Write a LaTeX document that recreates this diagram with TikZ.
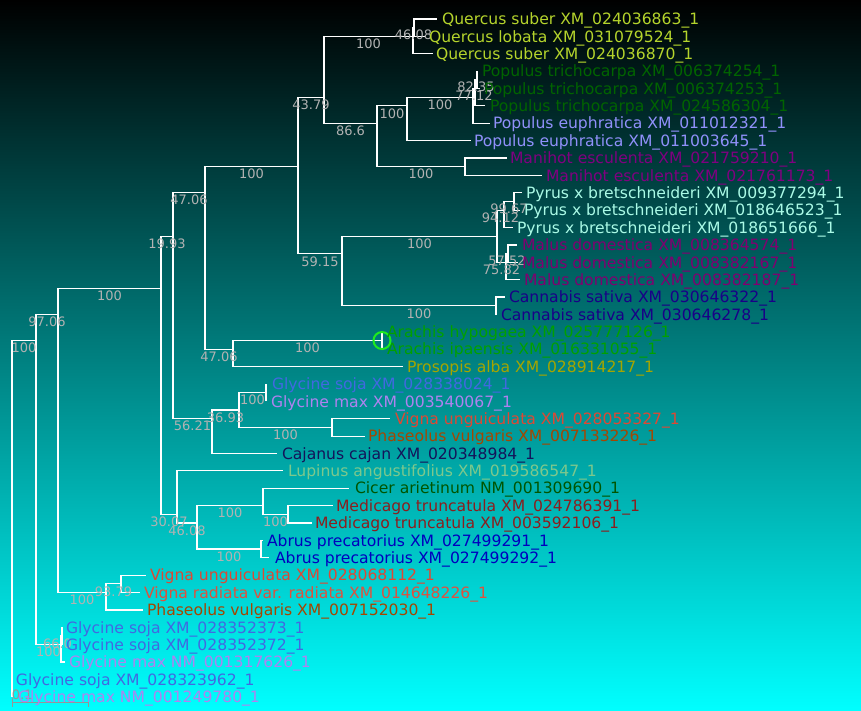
\documentclass[tikz,border=0pt]{standalone}
\usepackage{fontspec}
\setmainfont{DejaVu Sans}
\definecolor{bootgray}{RGB}{178,178,178}
\definecolor{scalegray}{RGB}{150,150,150}
\definecolor{cQ}{RGB}{181,212,44}
\definecolor{cPt}{RGB}{0,100,0}
\definecolor{cPe}{RGB}{144,144,250}
\definecolor{cMan}{RGB}{128,0,128}
\definecolor{cPy}{RGB}{170,250,230}
\definecolor{cMal}{RGB}{128,0,112}
\definecolor{cCan}{RGB}{25,0,135}
\definecolor{cAra}{RGB}{0,160,0}
\definecolor{cPro}{RGB}{165,165,0}
\definecolor{cGs}{RGB}{65,105,225}
\definecolor{cGm}{RGB}{175,130,240}
\definecolor{cVu}{RGB}{222,72,52}
\definecolor{cVr}{RGB}{222,82,62}
\definecolor{cPh}{RGB}{165,70,0}
\definecolor{cCaj}{RGB}{20,20,90}
\definecolor{cLup}{RGB}{125,200,140}
\definecolor{cCic}{RGB}{0,85,0}
\definecolor{cMed}{RGB}{140,30,30}
\definecolor{cAb}{RGB}{0,0,190}
\definecolor{cCirc}{RGB}{30,235,30}
\tikzset{
  leaf/.style={anchor=base west, inner sep=0pt, outer sep=0pt, yshift=-5.7pt, font=\fontsize{15.6}{18}\selectfont},
  boot/.style={anchor=base, inner sep=0pt, outer sep=0pt, yshift=-4.7pt, text=bootgray, font=\fontsize{13}{15}\selectfont},
  branch/.style={draw=white, line width=1.2pt},
}
\begin{document}
\begin{tikzpicture}[x=1pt,y=-1pt]
\useasboundingbox (0,0) rectangle (861,711);
\shade[top color=black, bottom color=cyan] (0,0) rectangle (861,711);

% internal nodes
\coordinate (R) at (12,358.0);
\coordinate (N36) at (36,340.53);
\coordinate (N58) at (58,314.46);
\coordinate (N161) at (161,288.39);
\coordinate (N173) at (173,236.25);
\coordinate (N205) at (205,192.8);
\coordinate (N298) at (298,166.73);
\coordinate (N324) at (324,97.21);
\coordinate (NQ) at (413,36.38);
\coordinate (NQ1) at (414,27.69);
\coordinate (N377) at (377,123.28);
\coordinate (N407) at (407,105.90);
\coordinate (P1) at (473,97.21);
\coordinate (P2) at (475,88.52);
\coordinate (P3) at (477,79.83);
\coordinate (NM) at (465,166.73);
\coordinate (N342) at (342,253.63);
\coordinate (NR) at (497,236.25);
\coordinate (NPy) at (504,210.18);
\coordinate (NPy1) at (514,201.49);
\coordinate (NMa) at (506,262.32);
\coordinate (NMa1) at (508,253.63);
\coordinate (NC) at (496,305.77);
\coordinate (NAP) at (233,349.22);
\coordinate (NA) at (382,340.53);
\coordinate (N212) at (212,418.74);
\coordinate (N239) at (239,410.05);
\coordinate (NG) at (266,392.67);
\coordinate (NVP) at (332,427.43);
\coordinate (N177) at (177,514.33);
\coordinate (N197) at (197,523.02);
\coordinate (NCM) at (263,505.64);
\coordinate (NMe) at (288,514.33);
\coordinate (NAb) at (261,549.09);
\coordinate (N106) at (106,592.54);
\coordinate (NV) at (121,583.85);
\coordinate (NGl) at (61,644.68);
\coordinate (NGl1) at (62,635.99);

% leaf tips
\coordinate (t1) at (437,19.00);
\coordinate (t2) at (425,36.38);
\coordinate (t3) at (433,53.76);
\coordinate (t4) at (477,71.14);
\coordinate (t5) at (480,88.52);
\coordinate (t6) at (485,105.90);
\coordinate (t7) at (490,123.28);
\coordinate (t8) at (471,140.66);
\coordinate (t9) at (507,158.04);
\coordinate (t10) at (542,175.42);
\coordinate (t11) at (522,192.80);
\coordinate (t12) at (520,210.18);
\coordinate (t13) at (513,227.56);
\coordinate (t14) at (517,244.94);
\coordinate (t15) at (518,262.32);
\coordinate (t16) at (520,279.70);
\coordinate (t17) at (505,297.08);
\coordinate (t18) at (497,314.46);
\coordinate (t19) at (382,331.84);
\coordinate (t20) at (382,349.22);
\coordinate (t21) at (403,366.60);
\coordinate (t22) at (266,383.98);
\coordinate (t23) at (266,401.36);
\coordinate (t24) at (390,418.74);
\coordinate (t25) at (365,436.12);
\coordinate (t26) at (277,453.50);
\coordinate (t27) at (283,470.88);
\coordinate (t28) at (349,488.26);
\coordinate (t29) at (333,505.64);
\coordinate (t30) at (312,523.02);
\coordinate (t31) at (263,540.40);
\coordinate (t32) at (269,557.78);
\coordinate (t33) at (146,575.16);
\coordinate (t34) at (140,592.54);
\coordinate (t35) at (143,609.92);
\coordinate (t36) at (62,627.30);
\coordinate (t37) at (62,644.68);
\coordinate (t38) at (65,662.06);
\coordinate (t39) at (12,679.44);
\coordinate (t40) at (12,696.82);

% branches
\draw[branch] (R) |- (N36); \draw[branch] (R) |- (t39); \draw[branch] (R) |- (t40);
\draw[branch] (N36) |- (N58); \draw[branch] (N36) |- (NGl);
\draw[branch] (NGl) |- (NGl1); \draw[branch] (NGl) |- (t38);
\draw[branch] (NGl1) |- (t36); \draw[branch] (NGl1) |- (t37);
\draw[branch] (N58) |- (N161); \draw[branch] (N58) |- (N106);
\draw[branch] (N106) |- (NV); \draw[branch] (N106) |- (t35);
\draw[branch] (NV) |- (t33); \draw[branch] (NV) |- (t34);
\draw[branch] (N161) |- (N173); \draw[branch] (N161) |- (N177);
\draw[branch] (N177) |- (t27); \draw[branch] (N177) |- (N197);
\draw[branch] (N197) |- (NCM); \draw[branch] (N197) |- (NAb);
\draw[branch] (NCM) |- (t28); \draw[branch] (NCM) |- (NMe);
\draw[branch] (NMe) |- (t29); \draw[branch] (NMe) |- (t30);
\draw[branch] (NAb) |- (t31); \draw[branch] (NAb) |- (t32);
\draw[branch] (N173) |- (N205); \draw[branch] (N173) |- (N212);
\draw[branch] (N212) |- (N239); \draw[branch] (N212) |- (t26);
\draw[branch] (N239) |- (NG); \draw[branch] (N239) |- (NVP);
\draw[branch] (NG) |- (t22); \draw[branch] (NG) |- (t23);
\draw[branch] (NVP) |- (t24); \draw[branch] (NVP) |- (t25);
\draw[branch] (N205) |- (N298); \draw[branch] (N205) |- (NAP);
\draw[branch] (NAP) |- (NA); \draw[branch] (NAP) |- (t21);
\draw[branch] (NA) |- (t19); \draw[branch] (NA) |- (t20);
\draw[branch] (N298) |- (N324); \draw[branch] (N298) |- (N342);
\draw[branch] (N342) |- (NR); \draw[branch] (N342) |- (NC);
\draw[branch] (NC) |- (t17); \draw[branch] (NC) |- (t18);
\draw[branch] (NR) |- (NPy); \draw[branch] (NR) |- (NMa);
\draw[branch] (NPy) |- (NPy1); \draw[branch] (NPy) |- (t13);
\draw[branch] (NPy1) |- (t11); \draw[branch] (NPy1) |- (t12);
\draw[branch] (NMa) |- (NMa1); \draw[branch] (NMa) |- (t16);
\draw[branch] (NMa1) |- (t14); \draw[branch] (NMa1) |- (t15);
\draw[branch] (N324) |- (NQ); \draw[branch] (N324) |- (N377);
\draw[branch] (NQ) |- (NQ1); \draw[branch] (NQ) |- (t3);
\draw[branch] (NQ1) |- (t1); \draw[branch] (NQ1) |- (t2);
\draw[branch] (N377) |- (N407); \draw[branch] (N377) |- (NM);
\draw[branch] (NM) |- (t9); \draw[branch] (NM) |- (t10);
\draw[branch] (N407) |- (P1); \draw[branch] (N407) |- (t8);
\draw[branch] (P1) |- (P2); \draw[branch] (P1) |- (t7);
\draw[branch] (P2) |- (P3); \draw[branch] (P2) |- (t6);
\draw[branch] (P3) |- (t4); \draw[branch] (P3) |- (t5);

% bootstrap labels
\node[boot] (b1) at (368.5,43.9) {100};
\node[boot] (b2) at (413.5,35.2) {46.08};
\node[boot] (b3) at (311,104.7) {43.79};
\node[boot] (b4) at (350.5,130.8) {86.6};
\node[boot] (b5) at (392,113.4) {100};
\node[boot] (b6) at (440,104.7) {100};
\node[boot] (b7) at (474,96.0) {77.12};
\node[boot] (b8) at (476,87.3) {82.35};
\node[boot] (b9) at (421,174.2) {100};
\node[boot] (b10) at (251.5,174.2) {100};
\node[boot] (b11) at (320,261.6) {59.15};
\node[boot] (b12) at (419.5,243.8) {100};
\node[boot] (b13) at (500.5,217.7) {94.12};
\node[boot] (b14) at (509,209.0) {99.67};
\node[boot] (b15) at (501.5,269.8) {75.82};
\node[boot] (b16) at (507,261.1) {57.52};
\node[boot] (b17) at (419,313.3) {100};
\node[boot] (b18) at (189,200.3) {47.06};
\node[boot] (b19) at (219,356.7) {47.06};
\node[boot] (b20) at (307.5,348.0) {100};
\node[boot] (b21) at (167,243.8) {19.93};
\node[boot] (b22) at (192.5,426.2) {56.21};
\node[boot] (b23) at (225.5,417.6) {36.93};
\node[boot] (b24) at (252.5,400.2) {100};
\node[boot] (b25) at (285.5,434.9) {100};
\node[boot] (b26) at (109.5,295.9) {100};
\node[boot] (b27) at (169,521.8) {30.07};
\node[boot] (b28) at (187,530.5) {46.08};
\node[boot] (b29) at (230,513.1) {100};
\node[boot] (b30) at (275.5,521.8) {100};
\node[boot] (b31) at (229,556.6) {100};
\node[boot] (b32) at (47,322.0) {97.06};
\node[boot] (b33) at (82,600.0) {100};
\node[boot] (b34) at (113.5,591.4) {93.79};
\node[boot] (b35) at (24,348.0) {100};
\node[boot] (b36) at (48.5,652.2) {100};
\node[boot, anchor=base west] (b37) at (43,643.5) {66.0};

% scale bar
\coordinate (s1) at (12,702);
\coordinate (s2) at (88,702);
\draw[scalegray, line width=1pt] (s1) -- (s2);
\draw[scalegray, line width=1pt] ([yshift=4.5pt]s1) -- ([yshift=-4.5pt]s1);
\draw[scalegray, line width=1pt] ([yshift=4.5pt]s2) -- ([yshift=-4.5pt]s2);
\node[boot, text=scalegray, anchor=base west] (sl) at (12,695) {0.1};

% highlight circle
\draw[cCirc, line width=2pt] (NA) circle (8.5);

% leaf labels
\node[leaf, text=cQ] (l1) at (442,19.00) {Quercus suber XM\_024036863\_1};
\node[leaf, text=cQ] (l2) at (429,36.38) {Quercus lobata XM\_031079524\_1};
\node[leaf, text=cQ] (l3) at (436,53.76) {Quercus suber XM\_024036870\_1};
\node[leaf, text=cPt] (l4) at (482,71.14) {Populus trichocarpa XM\_006374254\_1};
\node[leaf, text=cPt] (l5) at (484,88.52) {Populus trichocarpa XM\_006374253\_1};
\node[leaf, text=cPt] (l6) at (490,105.90) {Populus trichocarpa XM\_024586304\_1};
\node[leaf, text=cPe] (l7) at (493,123.28) {Populus euphratica XM\_011012321\_1};
\node[leaf, text=cPe] (l8) at (474,140.66) {Populus euphratica XM\_011003645\_1};
\node[leaf, text=cMan] (l9) at (510,158.04) {Manihot esculenta XM\_021759210\_1};
\node[leaf, text=cMan] (l10) at (546,175.42) {Manihot esculenta XM\_021761173\_1};
\node[leaf, text=cPy] (l11) at (526,192.80) {Pyrus x bretschneideri XM\_009377294\_1};
\node[leaf, text=cPy] (l12) at (524,210.18) {Pyrus x bretschneideri XM\_018646523\_1};
\node[leaf, text=cPy] (l13) at (517,227.56) {Pyrus x bretschneideri XM\_018651666\_1};
\node[leaf, text=cMal] (l14) at (522,244.94) {Malus domestica XM\_008364574\_1};
\node[leaf, text=cMal] (l15) at (522,262.32) {Malus domestica XM\_008382167\_1};
\node[leaf, text=cMal] (l16) at (524,279.70) {Malus domestica XM\_008382187\_1};
\node[leaf, text=cCan] (l17) at (509,297.08) {Cannabis sativa XM\_030646322\_1};
\node[leaf, text=cCan] (l18) at (501,314.46) {Cannabis sativa XM\_030646278\_1};
\node[leaf, text=cAra] (l19) at (387,331.84) {Arachis hypogaea XM\_025777126\_1};
\node[leaf, text=cAra] (l20) at (387,349.22) {Arachis ipaensis XM\_016331055\_1};
\node[leaf, text=cPro] (l21) at (407,366.60) {Prosopis alba XM\_028914217\_1};
\node[leaf, text=cGs] (l22) at (272,383.98) {Glycine soja XM\_028338024\_1};
\node[leaf, text=cGm] (l23) at (271,401.36) {Glycine max XM\_003540067\_1};
\node[leaf, text=cVu] (l24) at (395,418.74) {Vigna unguiculata XM\_028053327\_1};
\node[leaf, text=cPh] (l25) at (368,436.12) {Phaseolus vulgaris XM\_007133226\_1};
\node[leaf, text=cCaj] (l26) at (282,453.50) {Cajanus cajan XM\_020348984\_1};
\node[leaf, text=cLup] (l27) at (288,470.88) {Lupinus angustifolius XM\_019586547\_1};
\node[leaf, text=cCic] (l28) at (355,488.26) {Cicer arietinum NM\_001309690\_1};
\node[leaf, text=cMed] (l29) at (336,505.64) {Medicago truncatula XM\_024786391\_1};
\node[leaf, text=cMed] (l30) at (315,523.02) {Medicago truncatula XM\_003592106\_1};
\node[leaf, text=cAb] (l31) at (267,540.40) {Abrus precatorius XM\_027499291\_1};
\node[leaf, text=cAb] (l32) at (275,557.78) {Abrus precatorius XM\_027499292\_1};
\node[leaf, text=cVu] (l33) at (150,575.16) {Vigna unguiculata XM\_028068112\_1};
\node[leaf, text=cVr] (l34) at (144,592.54) {Vigna radiata var. radiata XM\_014648226\_1};
\node[leaf, text=cPh] (l35) at (147,609.92) {Phaseolus vulgaris XM\_007152030\_1};
\node[leaf, text=cGs] (l36) at (66,627.30) {Glycine soja XM\_028352373\_1};
\node[leaf, text=cGs] (l37) at (66,644.68) {Glycine soja XM\_028352372\_1};
\node[leaf, text=cGm] (l38) at (69,662.06) {Glycine max NM\_001317626\_1};
\node[leaf, text=cGs] (l39) at (16,679.44) {Glycine soja XM\_028323962\_1};
\node[leaf, text=cGm] (l40) at (18,696.82) {Glycine max NM\_001249780\_1};
\end{tikzpicture}
\end{document}
